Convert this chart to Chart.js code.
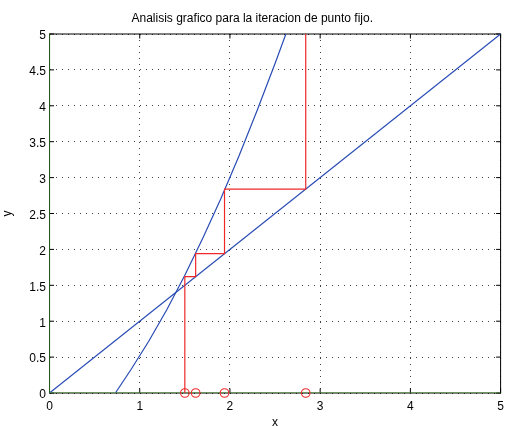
<!DOCTYPE html>
<html>
<head>
<meta charset="utf-8">
<script src="https://cdn.jsdelivr.net/npm/chart.js@4/dist/chart.umd.min.js"></script>
<style>
  html, body { margin: 0; padding: 0; background: #fff; }
</style>
</head>
<body>
<canvas id="chart" width="506" height="426"></canvas>
<script>
// y = x reference line
var idX = [0, 5];
var idY = [0, 5];
// g(x)
var gX = [0.73, 0.9, 1.1, 1.3, 1.5, 1.7, 1.9, 2.1, 2.3, 2.5, 2.62];
var gY = [0, 0.32, 0.72, 1.16, 1.64, 2.16, 2.71, 3.30, 3.93, 4.59, 5.0];
// cobweb path
var cobX = [1.5, 1.5, 1.62, 1.62, 1.94, 1.94, 2.84, 2.84];
var cobY = [0, 1.62, 1.62, 1.94, 1.94, 2.84, 2.84, 5.8];
// iterates on the x axis
var iterX = [1.5, 1.62, 1.94, 2.84];
var iterY = [0, 0, 0, 0];
// green axis lines
var axHX = [0, 5], axHY = [0, 0];
var axVX = [0, 0], axVY = [0, 5];

var xTickLabels = ['0', '1', '2', '3', '4', '5'];
var yTickLabels = ['0', '0.5', '1', '1.5', '2', '2.5', '3', '3.5', '4', '4.5', '5'];

var FONT = "'Liberation Sans', Arial, Helvetica, sans-serif";
var BLUE = 'rgb(40,75,180)';
var RED = 'rgb(240,40,40)';
var GREEN = 'rgb(85,170,60)';

function pts(xs, ys) {
  var out = [];
  for (let i = 0; i < xs.length; i++) out.push({x: xs[i], y: ys[i]});
  return out;
}

function lineSet(data, color) {
  return {data: data, showLine: true, fill: false, borderColor: color, borderWidth: 1.2,
          pointRadius: 0, pointHoverRadius: 0, tension: 0};
}

// box and inward ticks, MATLAB style
var frame = {
  id: 'frame',
  beforeDatasetsDraw: function (c) {
    var ctx = c.ctx, a = c.chartArea, x = c.scales.x, y = c.scales.y;
    ctx.save();
    ctx.strokeStyle = '#000';
    ctx.lineWidth = 1;
    ctx.strokeRect(a.left, a.top, a.right - a.left, a.bottom - a.top);
    ctx.beginPath();
    x.ticks.forEach(function (t) {
      var px = x.getPixelForValue(t.value);
      ctx.moveTo(px, a.bottom); ctx.lineTo(px, a.bottom - 4.5);
      ctx.moveTo(px, a.top); ctx.lineTo(px, a.top + 4.5);
    });
    y.ticks.forEach(function (t) {
      var py = y.getPixelForValue(t.value);
      ctx.moveTo(a.left, py); ctx.lineTo(a.left + 4.5, py);
      ctx.moveTo(a.right, py); ctx.lineTo(a.right - 4.5, py);
    });
    ctx.stroke();
    ctx.restore();
  }
};

var ctx = document.getElementById('chart').getContext('2d');
var chart = new Chart(ctx, {
  type: 'scatter',
  data: {
    datasets: [
      {data: pts(iterX, iterY), showLine: false, pointRadius: 4.3, pointHoverRadius: 4.3,
       pointStyle: 'circle', borderColor: RED, backgroundColor: 'rgba(0,0,0,0)', borderWidth: 1.1,
       clip: false},
      lineSet(pts(cobX, cobY), RED),
      lineSet(pts(axHX, axHY), GREEN),
      lineSet(pts(axVX, axVY), GREEN),
      lineSet(pts(gX, gY), BLUE),
      lineSet(pts(idX, idY), BLUE)
    ]
  },
  options: {
    responsive: false,
    animation: false,
    events: [],
    layout: {padding: {left: 0, right: 1.5, top: 0, bottom: 0}},
    plugins: {
      legend: {display: false},
      tooltip: {enabled: false},
      title: {
        display: true,
        text: 'Analisis grafico para la iteracion de punto fijo.',
        color: '#000',
        font: {family: FONT, size: 12, weight: 'normal'},
        padding: {top: 11.5, bottom: 8.1}
      }
    },
    scales: {
      x: {
        type: 'linear', min: 0, max: 5,
        ticks: {stepSize: 1, color: '#000', padding: 6, maxRotation: 0,
                font: {family: FONT, size: 12},
                callback: function (v, i) { return xTickLabels[i]; }},
        grid: {color: 'rgba(0,0,0,0.75)', lineWidth: 1, drawTicks: false},
        border: {display: false, dash: [1, 5]},
        title: {display: true, text: 'x', color: '#000', font: {family: FONT, size: 12},
                padding: {top: 0, bottom: -3.5}},
        afterFit: function (s) { s.height = 33; s.paddingLeft = 0; s.paddingRight = 0; }
      },
      y: {
        type: 'linear', min: 0, max: 5,
        ticks: {stepSize: 0.5, color: '#000', padding: 3.5, labelOffset: 2,
                font: {family: FONT, size: 12},
                callback: function (v, i) { return yTickLabels[i]; }},
        grid: {color: 'rgba(0,0,0,0.75)', lineWidth: 1, drawTicks: false},
        border: {display: false, dash: [1, 5]},
        title: {display: true, text: 'y', color: '#000', font: {family: FONT, size: 12},
                padding: {top: 0, bottom: 0}},
        afterFit: function (s) { s.width = 49.5; s.paddingTop = 0; s.paddingBottom = 0; }
      }
    }
  },
  plugins: [frame]
});
</script>
</body>
</html>
